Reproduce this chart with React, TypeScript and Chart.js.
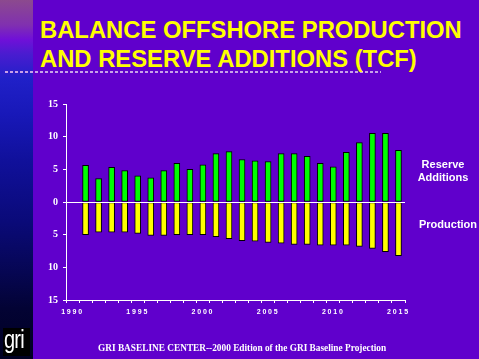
import React, { useEffect, useRef } from "react";
import { Chart, registerables } from "chart.js";

Chart.register(...registerables);

const years: number[] = [
  1990, 1991, 1992, 1993, 1994, 1995, 1996, 1997, 1998, 1999, 2000, 2001, 2002,
  2003, 2004, 2005, 2006, 2007, 2008, 2009, 2010, 2011, 2012, 2013, 2014, 2015,
];

// TCF, reserve additions (positive)
const reserveAdditions: (number | null)[] = [
  null, 5.6, 3.6, 5.3, 4.8, 4.0, 3.7, 4.8, 5.9, 5.0, 5.7, 7.4, 7.7,
  6.5, 6.3, 6.2, 7.4, 7.4, 7.0, 5.9, 5.4, 7.6, 9.1, 10.5, 10.5, 7.9,
];

// TCF, production (drawn below zero)
const production: (number | null)[] = [
  null, 5.0, 4.6, 4.6, 4.6, 4.8, 5.1, 5.1, 5.0, 5.0, 5.0, 5.3, 5.6,
  5.9, 6.0, 6.2, 6.3, 6.5, 6.5, 6.6, 6.6, 6.6, 6.8, 7.1, 7.6, 8.2,
];

const yTicks: number[] = [-15, -10, -5, 0, 5, 10, 15];

const titleLines: string[] = [
  "BALANCE OFFSHORE PRODUCTION",
  "AND RESERVE ADDITIONS (TCF)",
];

const BG = "#6000CC";

export default function App() {
  const ref = useRef<HTMLCanvasElement | null>(null);

  useEffect(() => {
    document.body.style.margin = "0";
    const canvas = ref.current;
    if (!canvas) return;
    const spacingPlugin = {
      id: "xLetterSpacing",
      afterDatasetsDraw(chart: any) {
        (chart.ctx as any).letterSpacing = "1.8px";
      },
      afterDraw(chart: any) {
        (chart.ctx as any).letterSpacing = "0px";
      },
    };
    const chart = new Chart(canvas, {
      type: "bar",
      data: {
        labels: years.map(String),
        datasets: [
          {
            label: "Reserve Additions",
            data: reserveAdditions,
            backgroundColor: "#00FF00",
            borderColor: "#000000",
            borderWidth: 1,
            barThickness: 6,
            borderSkipped: false,
          },
          {
            label: "Production",
            data: production.map((v) => (v === null ? null : -v)),
            backgroundColor: "#FFFF00",
            borderColor: "#000000",
            borderWidth: 1,
            barThickness: 6,
            borderSkipped: false,
          },
        ],
      },
      options: {
        animation: false,
        responsive: false,
        events: [],
        layout: { padding: { left: 0, top: 104, right: 74, bottom: 0 } },
        plugins: {
          legend: { display: false },
          tooltip: { enabled: false },
          title: { display: false },
        },
        scales: {
          x: {
            stacked: true,
            offset: true,
            afterFit: (scale: any) => {
              scale.height = 59;
            },
            grid: {
              offset: true,
              drawOnChartArea: false,
              drawTicks: true,
              tickLength: 3,
              color: "#FFFFFF",
              tickColor: "#FFFFFF",
            },
            border: { display: true, color: "#FFFFFF", width: 1 },
            ticks: {
              z: 2,
              autoSkip: false,
              maxRotation: 0,
              minRotation: 0,
              padding: 5,
              color: "#FFFFFF",
              font: { family: "'Liberation Sans', Arial, sans-serif", size: 7, weight: "bold" },
              callback: (_v: any, i: number) => (years[i] % 5 === 0 ? String(years[i]) : ""),
            },
          },
          y: {
            stacked: true,
            min: yTicks[0],
            max: yTicks[yTicks.length - 1],
            afterFit: (scale: any) => {
              scale.width = 66;
            },
            afterBuildTicks: (scale: any) => {
              scale.ticks = yTicks.map((v) => ({ value: v }));
            },
            grid: {
              z: 1,
              drawTicks: true,
              tickLength: 3,
              color: (ctx: any) => (ctx.tick && ctx.tick.value === 0 ? "#FFFFFF" : "rgba(0,0,0,0)"),
              tickColor: "#FFFFFF",
            },
            border: { display: true, color: "#FFFFFF", width: 1, z: 1 },
            ticks: {
              padding: 5,
              color: "#FFFFFF",
              font: { family: "'Liberation Serif', 'Times New Roman', serif", size: 10, weight: "bold" },
              callback: (v: any) => String(Math.abs(Number(v))),
            },
          },
        },
      },
      plugins: [spacingPlugin],
    } as any);
    return () => chart.destroy();
  }, []);

  const sans = "'Liberation Sans', Arial, sans-serif";
  const serif = "'Liberation Serif', 'Times New Roman', serif";

  return (
    <div
      style={{
        position: "fixed",
        left: 0,
        top: 0,
        width: 479,
        height: 359,
        background: BG,
        overflow: "hidden",
      }}
    >
      <div
        style={{
          position: "absolute",
          left: 0,
          top: 0,
          width: 33,
          height: 359,
          background:
            "linear-gradient(to bottom, #8c4a8e 0%, #8030b0 7%, #7010d8 11%, #4a1cd0 15%, #2020c8 22%, #1818b8 32%, #10109a 45%, #0a0a78 62%, #060652 76%, #030334 86%, #000022 100%)",
        }}
      />
      <div
        style={{
          position: "absolute",
          left: 5,
          top: 71,
          width: 376,
          height: 2,
          background:
            "repeating-linear-gradient(to right, #C8A0E8 0px, #C8A0E8 3px, rgba(0,0,0,0) 3px, rgba(0,0,0,0) 5px)",
        }}
      />
      <div
        style={{
          position: "absolute",
          left: 40,
          top: 14.5,
          color: "#FFFF00",
          fontFamily: sans,
          fontWeight: "bold",
          fontSize: 23.8,
          lineHeight: "29px",
          whiteSpace: "nowrap",
        }}
      >
        {titleLines.map((t) => (
          <div key={t}>{t}</div>
        ))}
      </div>
      <canvas
        ref={ref}
        width={479}
        height={359}
        style={{ position: "absolute", left: 0, top: 0, width: 479, height: 359 }}
      />
      <div
        style={{
          position: "absolute",
          left: 413,
          top: 158,
          width: 60,
          textAlign: "center",
          color: "#FFFFFF",
          fontFamily: sans,
          fontWeight: "bold",
          fontSize: 11,
          lineHeight: "12.7px",
        }}
      >
        <div>Reserve</div>
        <div>Additions</div>
      </div>
      <div
        style={{
          position: "absolute",
          left: 419,
          top: 218,
          color: "#FFFFFF",
          fontFamily: sans,
          fontWeight: "bold",
          fontSize: 11,
          lineHeight: "13px",
          whiteSpace: "nowrap",
        }}
      >
        Production
      </div>
      <div
        style={{
          position: "absolute",
          left: 98,
          top: 341,
          color: "#FFFFFF",
          fontFamily: serif,
          fontWeight: "bold",
          fontSize: 10,
          lineHeight: "13px",
          whiteSpace: "nowrap",
          transform: "scaleX(0.93)",
          transformOrigin: "left top",
        }}
      >
        GRI BASELINE CENTER--2000 Edition of the GRI Baseline Projection
      </div>
      <div
        style={{
          position: "absolute",
          left: 3,
          top: 328,
          width: 27,
          height: 28,
          background: "#000000",
          overflow: "hidden",
        }}
      >
        <div
          style={{
            position: "absolute",
            left: 1,
            top: -3,
            color: "#FFFFFF",
            fontFamily: sans,
            fontSize: 25,
            lineHeight: "28px",
            transform: "scaleX(0.8)",
            transformOrigin: "left top",
            letterSpacing: "-1px",
          }}
        >
          gri
        </div>
      </div>
    </div>
  );
}
